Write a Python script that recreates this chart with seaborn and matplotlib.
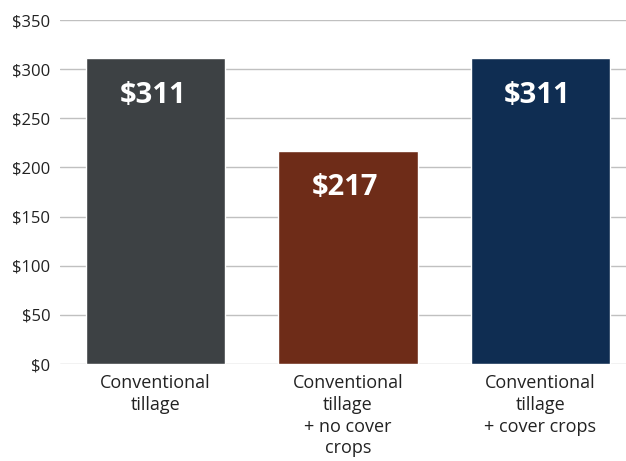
import matplotlib
matplotlib.use("Agg")
import matplotlib.pyplot as plt
import seaborn as sns
import pandas as pd

categories = ["Conventional\ntillage", "Conventional\ntillage\n+ no cover\ncrops", "Conventional\ntillage\n+ cover crops"]
values = [311, 217, 311]
colors = ["#3d4144", "#6e2c18", "#0f2d52"]
yticks = [0, 50, 100, 150, 200, 250, 300, 350]

sns.set_theme(style="white")
plt.rcParams['font.family'] = ['Open Sans', 'DejaVu Sans']

df = pd.DataFrame({"cat": categories, "val": values})

fig = plt.figure(figsize=(6.26, 4.61), dpi=100)
ax = fig.add_axes([0.0958, 0.2104, 1 - 0.0958, 0.9566 - 0.2104])
sns.barplot(data=df, x="cat", y="val", hue="cat", palette=colors, legend=False,
            width=0.724, saturation=1, ax=ax, zorder=3)

ax.set_ylim(0, 350)
ax.set_xlim(-0.497, 2.445)
ax.set_yticks(yticks)
ax.set_yticklabels([f"${v}" for v in yticks], fontsize=12, color="#222222")
ax.set_xticks(range(len(categories)))
ax.set_xticklabels(categories, fontsize=13, color="#222222", linespacing=1.28)
ax.tick_params(axis="x", length=0, pad=7)
ax.tick_params(axis="y", length=0, pad=7)
ax.set_xlabel("")
ax.set_ylabel("")
for s in ax.spines.values():
    s.set_visible(False)
ax.grid(axis="y", color="#c0c0c0", linewidth=1, zorder=0)
ax.set_axisbelow(True)

for i, v in enumerate(values):
    ax.annotate(f"${v}", xy=(i, v), xytext=(-2, -24), textcoords="offset points",
                ha="center", va="center_baseline", color="white", fontsize=21, fontweight="bold")

fig.savefig("out.png", dpi=100)
